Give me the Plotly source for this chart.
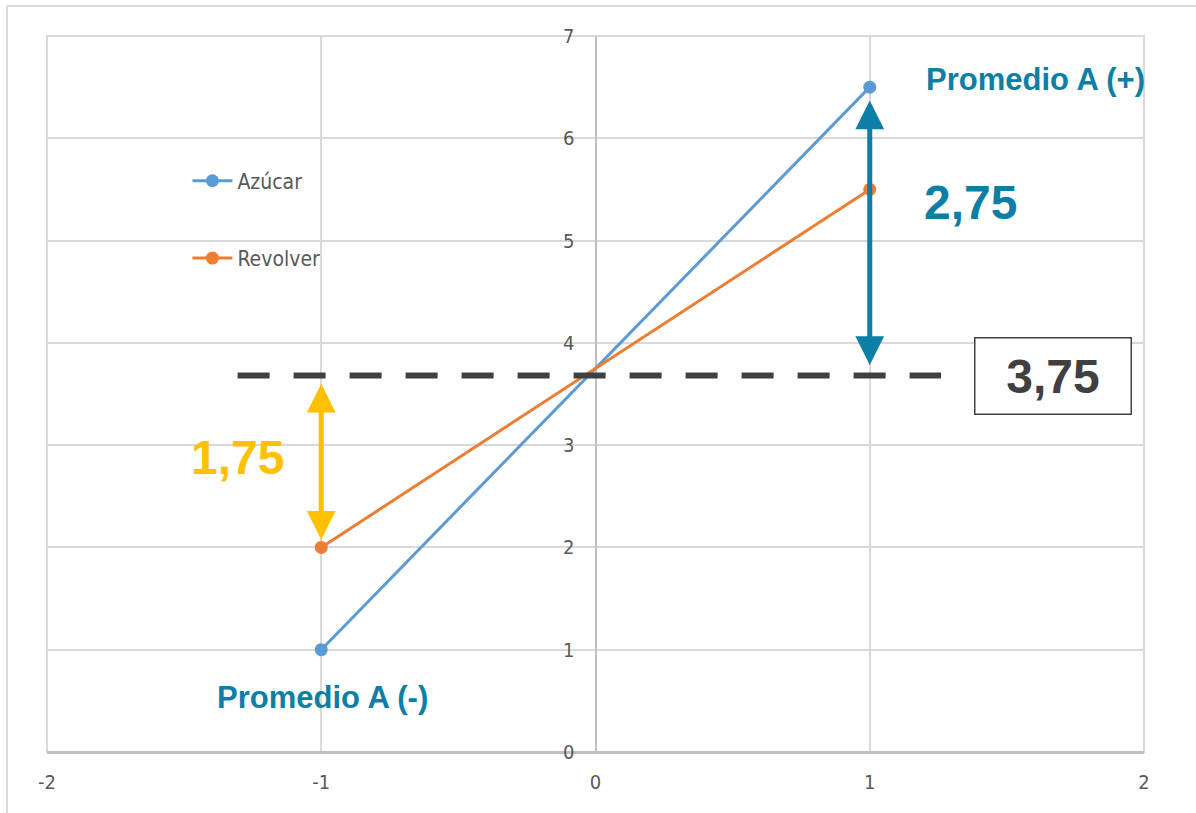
import plotly.graph_objects as go

# ---- data ----
x_levels = [-1, 1]
azucar = [1.0, 6.5]
revolver = [2.0, 5.5]
series_names = ["Azúcar", "Revolver"]
x_ticks = [-2, -1, 0, 1, 2]
x_tick_text = ["-2", "-1", "0", "1", "2"]
y_ticks = [0, 1, 2, 3, 4, 5, 6, 7]
y_tick_text = ["0", "1", "2", "3", "4", "5", "6", "7"]
mean_value = 3.75
label_mean = "3,75"
label_plus = "2,75"
label_minus = "1,75"

BLUE = "#5B9BD5"
ORANGE = "#ED7D31"
TEAL = "#0B7FA5"
AMBER = "#FFC000"
DARK = "#404040"
GRID = "#D9D9D9"
NARROW = "Liberation Sans Narrow, DejaVu Sans Condensed, Arial"
TICKFONT = dict(family=NARROW, size=20, color="#595959")
BOLD = "Liberation Sans, Arial"

fig = go.Figure()
fig.add_trace(go.Scatter(x=x_levels, y=azucar, mode="lines+markers", name=series_names[0],
                         line=dict(color=BLUE, width=3), marker=dict(size=13, color=BLUE),
                         legendgroup="a"))
fig.add_trace(go.Scatter(x=x_levels, y=revolver, mode="lines+markers", name=series_names[1],
                         line=dict(color=ORANGE, width=3), marker=dict(size=13, color=ORANGE),
                         legendgroup="b"))

line_y = 3.68  # visual position of the dashed mean line
fig.add_trace(go.Scatter(x=[-1.305, 1.26], y=[line_y, line_y], mode="lines", showlegend=False,
                         line=dict(color=DARK, width=6, dash="32px,24px"), hoverinfo="skip"))

annotations = [
    dict(x=1.603, y=6.57, text="<b>Promedio A (+)</b>", showarrow=False,
         font=dict(family=BOLD, size=31, color=TEAL)),
    dict(x=-0.995, y=0.53, text="<b>Promedio A (-)</b>", showarrow=False,
         font=dict(family=BOLD, size=31, color=TEAL)),
    dict(x=1.366, y=5.37, text="<b>" + label_plus + "</b>", showarrow=False,
         font=dict(family=BOLD, size=48, color=TEAL)),
    dict(x=-1.304, y=2.88, text="<b>" + label_minus + "</b>", showarrow=False,
         font=dict(family=BOLD, size=48, color=AMBER)),
    dict(x=1.668, y=3.675, text="<b>" + label_mean + "</b>", showarrow=False,
         font=dict(family=BOLD, size=48, color=DARK), width=153, height=73,
         bordercolor=DARK, borderwidth=1.5, bgcolor="white"),
    dict(x=1, y=6.37, ax=1, ay=3.77, xref="x", yref="y", axref="x", ayref="y", text="",
         showarrow=True, arrowhead=2, arrowside="end+start", arrowsize=1.15, arrowwidth=5,
         arrowcolor=TEAL),
    dict(x=-1, y=3.60, ax=-1, ay=2.06, xref="x", yref="y", axref="x", ayref="y", text="",
         showarrow=True, arrowhead=2, arrowside="end+start", arrowsize=1.15, arrowwidth=5,
         arrowcolor=AMBER),
]

shapes = [
    dict(type="rect", xref="paper", yref="paper", x0=0, y0=0, x1=1, y1=1,
         line=dict(color=GRID, width=2), layer="below"),
    dict(type="line", xref="paper", yref="paper", x0=-0.0365, x1=-0.0365, y0=-0.2, y1=1.042,
         line=dict(color=GRID, width=2)),
    dict(type="line", xref="paper", yref="paper", x0=-0.0365, x1=1.2, y0=1.042, y1=1.042,
         line=dict(color=GRID, width=2)),
]

fig.update_layout(
    width=1196, height=813,
    margin=dict(l=47, r=52, t=36, b=61),
    paper_bgcolor="white", plot_bgcolor="white",
    showlegend=True,
    legend=dict(x=0.128, y=0.826, xanchor="left", yanchor="top", bgcolor="rgba(0,0,0,0)",
                tracegroupgap=47, itemwidth=40,
                font=dict(family=NARROW, size=21, color="#595959")),
    xaxis=dict(range=[-2, 2], tickvals=x_ticks, ticktext=x_tick_text, showgrid=True,
               gridcolor=GRID, gridwidth=2,
               zeroline=True, zerolinecolor="#BFBFBF", zerolinewidth=2, showline=False,
               tickfont=TICKFONT, ticks="", ticklabelstandoff=16, fixedrange=True),
    yaxis=dict(range=[0, 7], tickvals=y_ticks, ticktext=y_tick_text, showgrid=True,
               gridcolor=GRID, gridwidth=2,
               zeroline=True, zerolinecolor="#BFBFBF", zerolinewidth=3, showline=False,
               anchor="free", position=0.5, tickfont=TICKFONT, ticks="", ticklabelstandoff=21,
               fixedrange=True),
    annotations=annotations,
    shapes=shapes,
)

fig.write_html("out.html")
